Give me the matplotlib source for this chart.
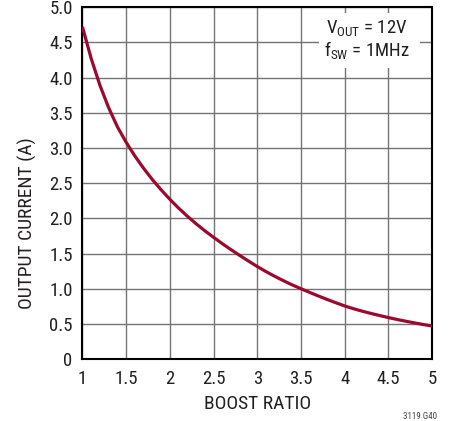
import matplotlib
matplotlib.use("Agg")
import matplotlib.pyplot as plt
from matplotlib.patches import Rectangle

plt.rcParams['font.family'] = ['Liberation Sans Narrow', 'Arial Narrow', 'Roboto Condensed',
                               'Liberation Sans', 'DejaVu Sans']

# boost ratio vs output current
boost_ratio = [1.0, 1.1, 1.2, 1.3, 1.4, 1.5, 1.6, 1.7, 1.8, 1.9, 2.0,
               2.1, 2.2, 2.3, 2.4, 2.5, 2.6, 2.7, 2.8, 2.9, 3.0,
               3.1, 3.2, 3.3, 3.4, 3.5, 3.6, 3.7, 3.8, 3.9, 4.0,
               4.1, 4.2, 4.3, 4.4, 4.5, 4.6, 4.7, 4.8, 4.9, 5.0]
output_current = [4.72, 4.27, 3.89, 3.57, 3.30, 3.08, 2.885, 2.71, 2.55, 2.405, 2.27,
                  2.145, 2.03, 1.923, 1.823, 1.73, 1.64, 1.554, 1.472, 1.392, 1.315,
                  1.243, 1.176, 1.113, 1.054, 1.0, 0.947, 0.896, 0.847, 0.80, 0.755,
                  0.716, 0.681, 0.649, 0.619, 0.59, 0.563, 0.538, 0.514, 0.491, 0.47]

x_ticks = [1, 1.5, 2, 2.5, 3, 3.5, 4, 4.5, 5]
x_labels = ["1", "1.5", "2", "2.5", "3", "3.5", "4", "4.5", "5"]
y_ticks = [0, 0.5, 1.0, 1.5, 2.0, 2.5, 3.0, 3.5, 4.0, 4.5, 5.0]
y_labels = ["0", "0.5", "1.0", "1.5", "2.0", "2.5", "3.0", "3.5", "4.0", "4.5", "5.0"]

txt = "#231f20"

fig = plt.figure(figsize=(4.53, 4.21), dpi=100)
ax = fig.add_axes([0.182, 0.147, 0.772, 0.836])

ax.plot(boost_ratio, output_current, color="#9b0a2e", lw=2.3, zorder=3,
        solid_capstyle="butt", solid_joinstyle="round")

ax.set_xlim(1, 5)
ax.set_ylim(0, 5)
ax.set_xticks(x_ticks)
ax.set_xticklabels(x_labels)
ax.set_yticks(y_ticks)
ax.set_yticklabels(y_labels)
ax.tick_params(length=0, labelsize=13.5, colors=txt)
ax.tick_params(axis="x", pad=8)
ax.tick_params(axis="y", pad=7)
ax.grid(True, color="#747474", lw=1.0)
for s in ax.spines.values():
    s.set_linewidth(1.5)
    s.set_color("black")

ax.set_xlabel("BOOST RATIO", fontsize=14, color=txt, labelpad=5)
ax.set_ylabel("OUTPUT CURRENT (A)", fontsize=14, color=txt, va="center")
ax.yaxis.set_label_coords(-0.156, 0.385)

# condition box: white patch hiding the grid, then the text
ax.add_patch(Rectangle((3.71, 4.14), 1.15, 0.78, facecolor="white", edgecolor="none", zorder=2.5))
ax.text(4.25, 4.53, "V$_\\mathregular{OUT}$ = 12V\nf$_\\mathregular{SW}$ = 1MHz",
        fontsize=13.5, color=txt, ha="center", va="center", linespacing=1.05, zorder=4)

fig.text(0.965, 0.0, "3119 G40", fontsize=6.5, color="#444444", ha="right", va="bottom")

fig.savefig("out.png", dpi=100)
